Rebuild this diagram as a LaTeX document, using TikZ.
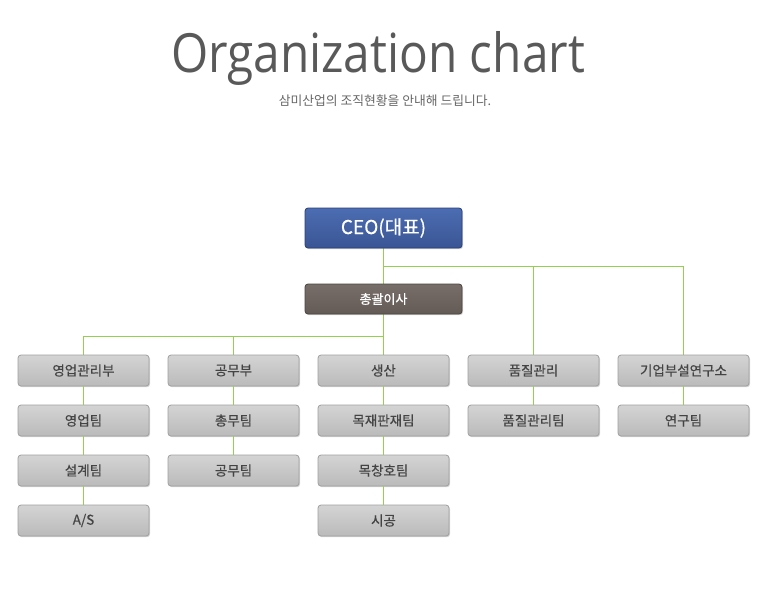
\documentclass[tikz,border=0pt]{standalone}
\usepackage{fontspec}
\setmainfont{Noto Sans CJK KR}
\newfontfamily\boldkr{Noto Sans CJK KR}[FakeBold=0.6]
\newfontfamily\titlefont{Open Sans}
\usetikzlibrary{shadows}
\definecolor{linegreen}{HTML}{92D050}
\definecolor{boxtop}{HTML}{D4D4D4}
\definecolor{boxbot}{HTML}{BABABA}
\definecolor{boxline}{HTML}{A0A0A0}
\definecolor{boxtext}{HTML}{444444}
\definecolor{ceotop}{HTML}{4C6DB2}
\definecolor{ceobot}{HTML}{3A5594}
\definecolor{ceoline}{HTML}{2B3F73}
\definecolor{dirtop}{HTML}{776E69}
\definecolor{dirbot}{HTML}{645B56}
\definecolor{dirline}{HTML}{4A4440}
\definecolor{titlegray}{HTML}{595959}
\definecolor{subgray}{HTML}{666666}
\tikzset{
  unitbox/.style={draw=boxline, line width=0.8pt, rounded corners=3pt,
    minimum width=131pt, minimum height=31pt, top color=boxtop, bottom color=boxbot,
    text=boxtext, font=\boldkr\fontsize{13.5}{13.5}\selectfont, inner sep=0pt,
    drop shadow={shadow xshift=1pt, shadow yshift=-1.2pt, opacity=0.35}},
  ceobox/.style={draw=ceoline, line width=0.8pt, rounded corners=3pt,
    minimum width=157pt, minimum height=40pt, top color=ceotop, bottom color=ceobot,
    text=white, font=\boldkr\fontsize{19}{19}\selectfont, inner sep=0pt,
    drop shadow={shadow xshift=1pt, shadow yshift=-1.2pt, opacity=0.35}},
  dirbox/.style={draw=dirline, line width=0.8pt, rounded corners=3pt,
    minimum width=157pt, minimum height=30pt, top color=dirtop, bottom color=dirbot,
    text=white, font=\boldkr\fontsize{13}{13}\selectfont, inner sep=0pt,
    drop shadow={shadow xshift=1pt, shadow yshift=-1.2pt, opacity=0.35}},
  link/.style={draw=linegreen, line width=1pt}
}
\begin{document}
\begin{tikzpicture}[x=1pt,y=-1pt]
\useasboundingbox (0,0) rectangle (770,595);
\node[text=titlegray, font=\titlefont\fontsize{54}{54}\selectfont, inner sep=0pt] (title) at (378,58) {\scalebox{0.885}[1]{Organization chart}};
\node[text=subgray, font=\fontsize{12.8}{12.8}\selectfont, inner sep=0pt] (sub) at (385,101) {삼미산업의 조직현황을 안내해 드립니다.};

\coordinate (topbus) at (383.5,266);
\coordinate (midbus) at (383.5,336);

\draw[link] (383.5,248) -- (383.5,284);
\draw[link] (topbus) -| (533.5,355);
\draw[link] (topbus) -| (683.5,355);
\draw[link] (383.5,314) -- (383.5,355);
\draw[link] (midbus) -| (83.5,355);
\draw[link] (midbus) -| (233.5,355);

\node[ceobox] (ceo) at (383.5,228) {CEO(대표)};
\node[dirbox] (dir) at (383.5,299) {총괄이사};

\node[unitbox] (a1) at (83.5,370.5) {영업관리부};
\node[unitbox] (a2) at (83.5,420.5) {영업팀};
\node[unitbox] (a3) at (83.5,470.5) {설계팀};
\node[unitbox] (a4) at (83.5,520.5) {A/S};
\node[unitbox] (b1) at (233.5,370.5) {공무부};
\node[unitbox] (b2) at (233.5,420.5) {총무팀};
\node[unitbox] (b3) at (233.5,470.5) {공무팀};
\node[unitbox] (c1) at (383.5,370.5) {생산};
\node[unitbox] (c2) at (383.5,420.5) {목재판재팀};
\node[unitbox] (c3) at (383.5,470.5) {목창호팀};
\node[unitbox] (c4) at (383.5,520.5) {시공};
\node[unitbox] (d1) at (533.5,370.5) {품질관리};
\node[unitbox] (d2) at (533.5,420.5) {품질관리팀};
\node[unitbox] (e1) at (683.5,370.5) {기업부설연구소};
\node[unitbox] (e2) at (683.5,420.5) {연구팀};

\draw[link] (a1) -- (a2); \draw[link] (a2) -- (a3); \draw[link] (a3) -- (a4);
\draw[link] (b1) -- (b2); \draw[link] (b2) -- (b3);
\draw[link] (c1) -- (c2); \draw[link] (c2) -- (c3); \draw[link] (c3) -- (c4);
\draw[link] (d1) -- (d2);
\draw[link] (e1) -- (e2);
\end{tikzpicture}
\end{document}
